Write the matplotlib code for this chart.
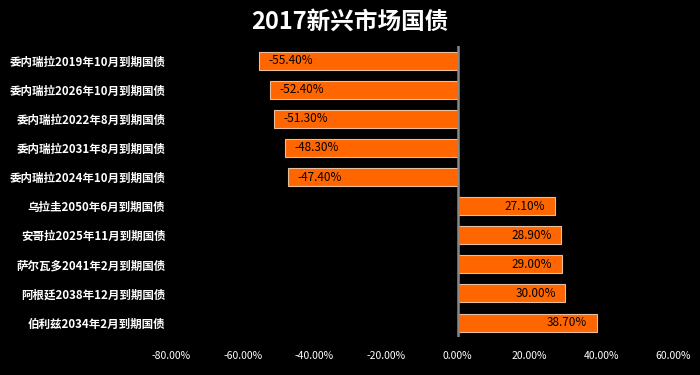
import matplotlib.pyplot as plt
from matplotlib.ticker import FuncFormatter

plt.rcParams['font.family'] = ['Noto Sans CJK SC', 'DejaVu Sans']

# data
bonds = ["委内瑞拉2019年10月到期国债", "委内瑞拉2026年10月到期国债",
         "委内瑞拉2022年8月到期国债", "委内瑞拉2031年8月到期国债",
         "委内瑞拉2024年10月到期国债", "乌拉圭2050年6月到期国债",
         "安哥拉2025年11月到期国债", "萨尔瓦多2041年2月到期国债",
         "阿根廷2038年12月到期国债", "伯利兹2034年2月到期国债"]
returns = [-0.554, -0.524, -0.513, -0.483, -0.474,
           0.271, 0.289, 0.290, 0.300, 0.387]
xticks = [-0.8, -0.6, -0.4, -0.2, 0.0, 0.2, 0.4, 0.6]

fig = plt.figure(figsize=(7, 3.75), dpi=100, facecolor="black")
ax = fig.add_axes([0.2443, 0.101, 0.717, 0.776], facecolor="black")

y = range(len(bonds))
ax.barh(y, returns, height=0.62, color="#FF6600",
        edgecolor="#E8C0A0", linewidth=0.8)
ax.set_xlim(-0.8, 0.6)
ax.set_ylim(len(bonds) - 0.5, -0.5)

# labels inside bar ends
for i, v in enumerate(returns):
    if v < 0:
        ax.text(v + 0.027, i, f"{v*100:.2f}%", ha="left", va="center",
                fontsize=8.5, color="black", fontweight="medium")
    else:
        ax.text(v - 0.027, i, f"{v*100:.2f}%", ha="right", va="center",
                fontsize=8.5, color="black", fontweight="medium")

ax.set_yticks(list(y))
ax.set_yticklabels(bonds, color="white", fontsize=8.3, fontweight="bold")
ax.set_xticks(xticks)
ax.xaxis.set_major_formatter(FuncFormatter(lambda v, p: f"{v*100:.2f}%"))
ax.tick_params(axis="x", colors="white", labelsize=7.5, length=0, pad=10)
ax.tick_params(axis="y", length=0, pad=4)

for s in ["top", "right", "bottom", "left"]:
    ax.spines[s].set_visible(False)
ax.axvline(0, color="#888888", linewidth=1.8)

fig.suptitle("2017新兴市场国债", color="white", fontsize=17,
             fontweight="bold", y=0.975)

fig.savefig("out.png", dpi=100, facecolor="black")
